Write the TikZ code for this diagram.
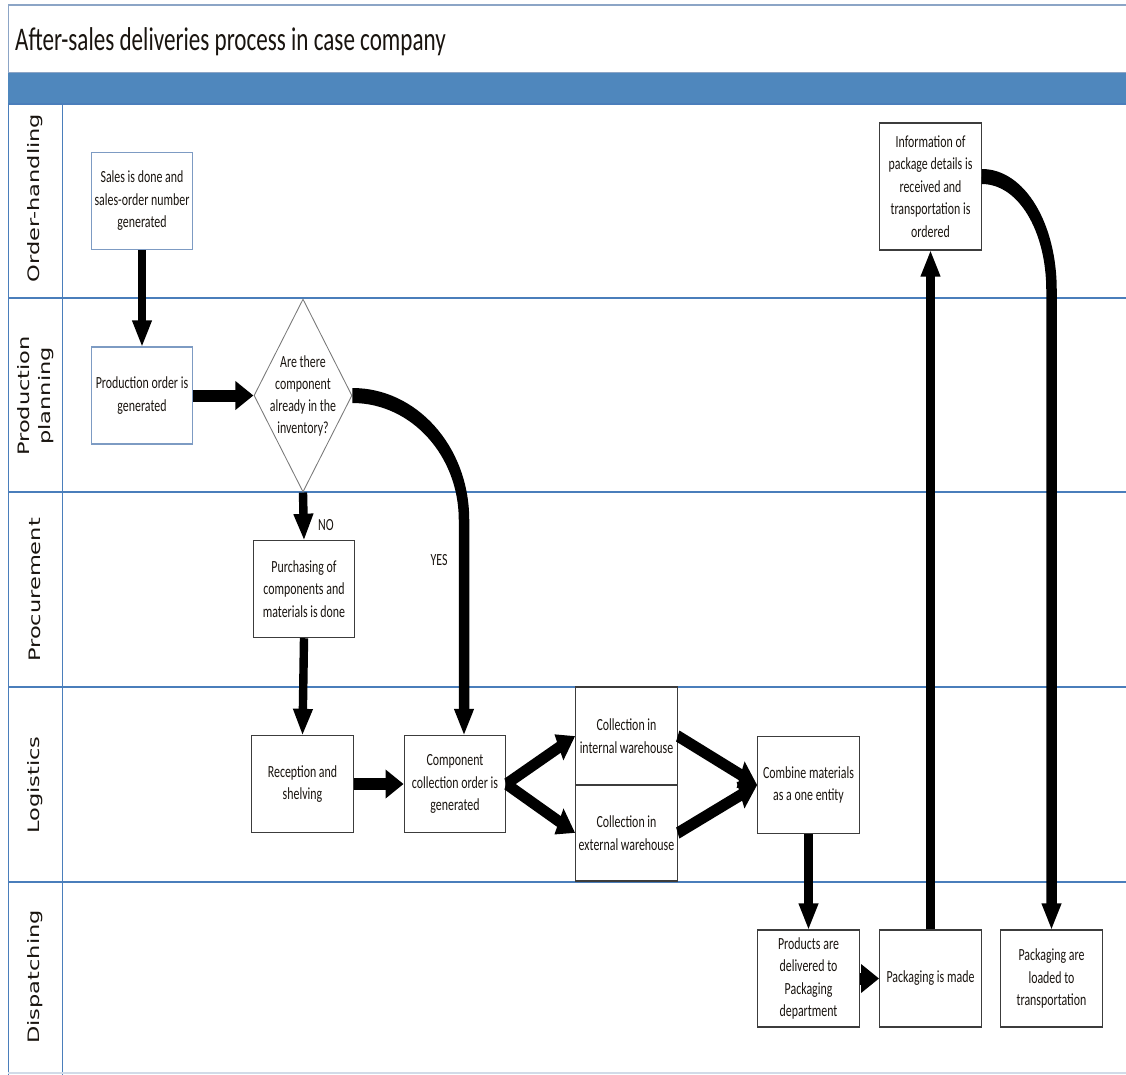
\documentclass[tikz,border=0pt]{standalone}
\usepackage{fontspec}
\setmainfont{Carlito}
\newfontfamily\lanefont{DejaVu Sans}
\usetikzlibrary{arrows.meta,shapes.geometric}

\definecolor{bandblue}{RGB}{79,135,189}
\definecolor{laneline}{RGB}{74,126,187}
\definecolor{framegray}{RGB}{140,165,198}
\definecolor{boxedge}{RGB}{60,60,60}
\definecolor{softedge}{RGB}{125,155,195}
\definecolor{diaedge}{RGB}{120,120,120}
\definecolor{txt}{RGB}{25,20,15}

\begin{document}
\begin{tikzpicture}[x=1pt,y=-1pt]
\useasboundingbox (0,0) rectangle (1126,1074);
\fill[white] (0,0) rectangle (1126,1074);

% the whole chart is set in a horizontally condensed canvas
\begin{scope}[x=1.428571pt, y=-1pt, transform canvas={xscale=0.7},
  stepbox/.style={draw=boxedge, line width=1.4pt, fill=white,
    minimum width=145pt, minimum height=97pt, inner sep=2pt,
    align=center, text=txt, font=\fontsize{17}{22.5}\selectfont},
  softbox/.style={stepbox, draw=softedge},
  decision/.style={diamond, draw=diaedge, line width=1.1pt, fill=white,
    minimum width=140pt, minimum height=193pt, inner sep=0pt},
  plaintext/.style={align=center, text=txt, inner sep=0pt,
    font=\fontsize{17}{22}\selectfont},
  lanelabel/.style={rotate=90, align=center, text=txt,
    font=\lanefont\fontsize{22.5}{30}\selectfont},
  tag/.style={text=txt, font=\fontsize{17}{20}\selectfont, inner sep=0pt},
  flow/.style={line width=12pt, draw=black,
    -{Triangle[width=27pt,length=26pt]}},
  bigflow/.style={flow, line width=15pt}]

% frame, title and lanes
\draw[framegray, line width=1.2pt] (8,1080) -- (8,5) -- (1140,5);
\fill[bandblue] (8,72) rectangle (1140,104);
\draw[framegray, line width=1pt] (8,72) -- (1140,72);
\foreach \yy in {104,298,492,687,882}
  \draw[laneline, line width=1.3pt] (8,\yy) -- (1140,\yy);
\draw[laneline, line width=1.3pt] (62,104) -- (62,1080);
\draw[laneline, line width=1.3pt] (8,104) -- (8,1080);
\draw[framegray!40, line width=2pt] (8,1073) -- (1140,1073);

\node[anchor=base west, inner sep=0pt, text=txt,
  font=\fontsize{33}{36}\selectfont] (title) at (15,50)
  {After-sales deliveries process in case company};

\node[lanelabel] (lane1) at (35,198) {Order-handling};
\node[lanelabel] (lane2) at (36,396) {Production\\planning};
\node[lanelabel] (lane3) at (35,590) {Procurement};
\node[lanelabel] (lane4) at (35,785) {Logistics};
\node[lanelabel] (lane5) at (35,977) {Dispatching};

% process steps
\node[softbox] (sales) at (142,201) {Sales is done and\\sales-order number\\generated};
\node[softbox] (prod) at (142,395.5) {Production order is\\generated};
\node[decision] (dia) at (303,395.5) {};
\node[plaintext] (diatext) at (dia.center) {Are there\\component\\already in the\\inventory?};
\node[stepbox] (purch) at (304,589) {Purchasing of\\components and\\materials is done};
\node[stepbox] (recep) at (302.5,784) {Reception and\\shelving};
\node[stepbox] (comp) at (455,784) {Component\\collection order is\\generated};
\node[stepbox, minimum height=98pt] (cint) at (626.5,736) {Collection in\\internal warehouse};
\node[stepbox, minimum height=96pt] (cext) at (626.5,833) {Collection in\\external warehouse};
\node[stepbox] (comb) at (808.5,785) {Combine materials\\as a one entity};
\node[stepbox] (deliv) at (808.5,978.5) {Products are\\delivered to\\Packaging\\department};
\node[stepbox] (packm) at (930.5,978.5) {Packaging is made};
\node[stepbox] (load) at (1051.5,978.5) {Packaging are\\loaded to\\transportation};
\node[stepbox, minimum height=127pt] (info) at (930.5,186.5) {Information of\\package details is\\received and\\transportation is\\ordered};

% branch labels
\node[tag] (no) at (326,525) {NO};
\node[tag] (yes) at (439,560) {YES};

% connectors
\draw[flow] (sales.south) -- (prod.north);
\draw[flow] (prod.east) -- (dia.west);
\draw[flow] (dia.south) -- (purch.north);
\draw[flow] (purch.south) -- (recep.north);
\draw[flow] (recep.east) -- (comp.west);
\draw[flow] (comp.east) -- (cint.west);
\draw[flow] (comp.east) -- (cext.west);
\draw[flow] (cint.east) -- (comb.west);
\draw[flow] (cext.east) -- (comb.west);
\draw[flow] (comb.south) -- (deliv.north);
\draw[flow] (deliv.east) -- (packm.west);
\draw[flow] (packm.north) -- (info.south);

\coordinate (yesdrop) at (464,520);
\draw[bigflow] (dia.east) .. controls (414,395.5) and (464,451) .. (yesdrop)
  -- (yesdrop |- comp.north);

\coordinate (infodrop) at (1051.5,290);
\draw[bigflow] ([yshift=10pt]info.east) .. controls (1022,176.5) and (1051.5,228) .. (infodrop)
  -- (load.north);
\end{scope}
\end{tikzpicture}
\end{document}
